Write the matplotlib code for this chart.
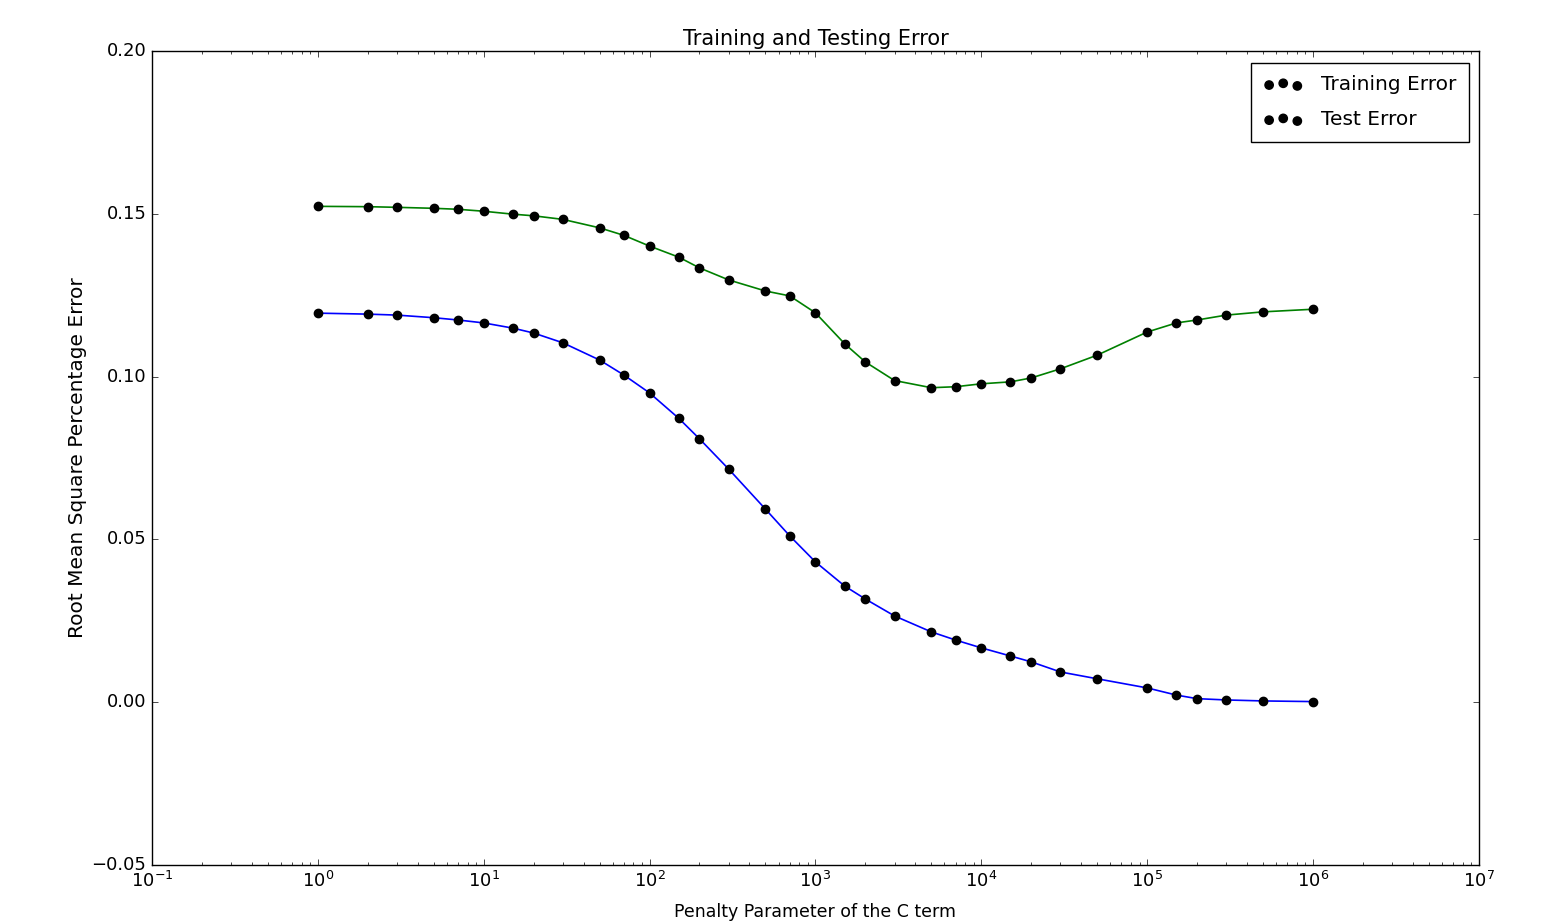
import matplotlib
matplotlib.use("Agg")
import matplotlib.pyplot as plt
import numpy as np

plt.style.use("classic")

# penalty parameter values (x axis, log scale)
c_values = [1, 2, 3, 5, 7, 10, 15, 20, 30, 50, 70, 100, 150, 200, 300, 500, 700,
            1000, 1500, 2000, 3000, 5000, 7000, 10000, 15000, 20000, 30000, 50000,
            100000, 150000, 200000, 300000, 500000, 1000000]

train_err = [0.1195, 0.1192, 0.1189, 0.1181, 0.1174, 0.1165, 0.1149, 0.1134, 0.1104,
             0.1051, 0.1005, 0.0950, 0.0872, 0.0809, 0.0716, 0.0593, 0.0511, 0.0431,
             0.0357, 0.0317, 0.0265, 0.0216, 0.0191, 0.0167, 0.0142, 0.0124, 0.0093,
             0.0072, 0.0044, 0.0022, 0.0011, 0.0007, 0.0004, 0.0002]

test_err = [0.1523, 0.1522, 0.1520, 0.1517, 0.1514, 0.1508, 0.1499, 0.1494, 0.1483,
            0.1457, 0.1434, 0.1401, 0.1367, 0.1334, 0.1297, 0.1263, 0.1248, 0.1196,
            0.1101, 0.1045, 0.0988, 0.0966, 0.0969, 0.0978, 0.0984, 0.0996, 0.1024,
            0.1066, 0.1137, 0.1165, 0.1174, 0.1189, 0.1199, 0.1207]

fig = plt.figure(figsize=(15.41, 9.23), dpi=100, facecolor="white")
ax = fig.add_axes([0.0986, 0.0628, 0.8611, 0.8819])

ax.plot(c_values, train_err, color="b", lw=1.2, zorder=2)
ax.plot(c_values, test_err, color="g", lw=1.2, zorder=2)
ax.scatter(c_values, train_err, c="k", s=36, edgecolors="k", zorder=3,
           label="Training Error")
ax.scatter(c_values, test_err, c="k", s=36, edgecolors="k", zorder=3,
           label="Test Error")

ax.set_xscale("log")
ax.set_xlim(1e-1, 1e7)
ax.set_ylim(-0.05, 0.20)
ax.set_yticks([-0.05, 0.0, 0.05, 0.10, 0.15, 0.20])
ax.tick_params(labelsize=13)

ax.set_title("Training and Testing Error", fontsize=15, pad=4)
ax.set_xlabel("Penalty Parameter of the C term", fontsize=12.5, labelpad=9)
ax.set_ylabel("Root Mean Square Percentage Error", fontsize=14.5, labelpad=3)

ax.legend(loc="upper right", bbox_to_anchor=(0.9925, 0.985),
          scatterpoints=3, fontsize=14.5, labelspacing=0.8, borderpad=0.6,
          borderaxespad=0.0, handletextpad=0.9)

fig.savefig("out.png", dpi=100, facecolor="white")
